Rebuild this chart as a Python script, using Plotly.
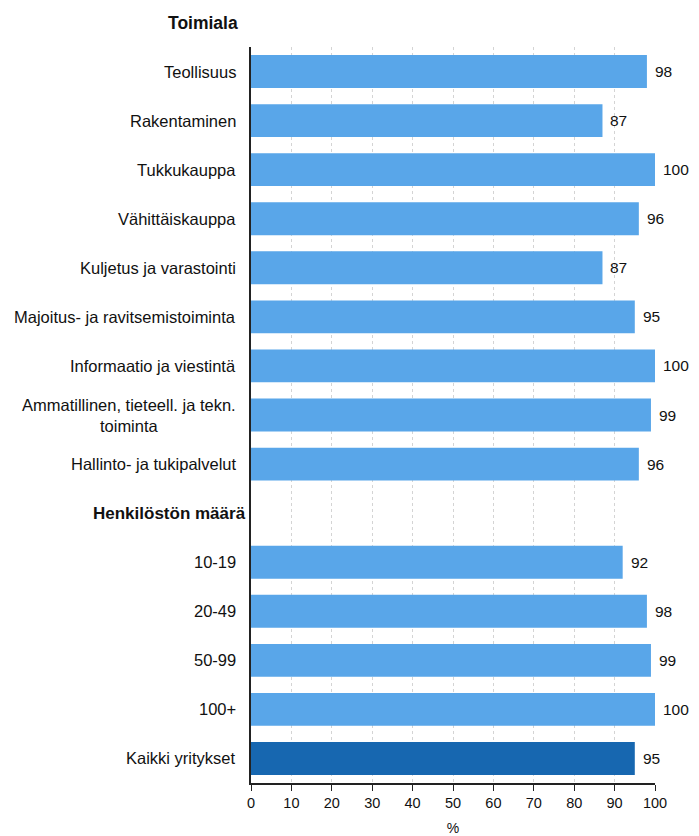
import plotly.graph_objects as go

categories = [
    "Teollisuus",
    "Rakentaminen",
    "Tukkukauppa",
    "Vähittäiskauppa",
    "Kuljetus ja varastointi",
    "Majoitus- ja ravitsemistoiminta",
    "Informaatio ja viestintä",
    "Ammatillinen, tieteell. ja tekn.<br>toiminta",
    "Hallinto- ja tukipalvelut",
    "Henkilöstön määrä",
    "10-19",
    "20-49",
    "50-99",
    "100+",
    "Kaikki yritykset",
]
values = [98, 87, 100, 96, 87, 95, 100, 99, 96, None, 92, 98, 99, 100, 95]
headers = ["Henkilöstön määrä"]
top_header = "Toimiala"
x_ticks = [0, 10, 20, 30, 40, 50, 60, 70, 80, 90, 100]
x_title = "%"

LIGHT = "#59a6e9"
DARK = "#1767b0"
FONT = "Liberation Sans, Arial, sans-serif"

cat_ids = [f"c{i}" for i in range(len(categories))]
colors = [DARK if c == "Kaikki yritykset" else LIGHT for c in categories]

fig = go.Figure()
fig.add_trace(go.Bar(
    x=[v if v is not None else 0 for v in values],
    y=cat_ids,
    orientation="h",
    marker=dict(color=colors, line=dict(width=0)),
    hoverinfo="skip",
))

annotations = []
for cid, cat, v in zip(cat_ids, categories, values):
    is_header = cat in headers
    annotations.append(dict(
        x=0, xref="paper", y=cid, yref="y",
        text=f"<b>{cat}</b>" if is_header else cat,
        showarrow=False, xanchor="right", yanchor="middle", align="center",
        xshift=-3 if is_header else -13,
        font=dict(family=FONT, size=17 if is_header else 16.5, color="#111"),
    ))
    if v is not None:
        annotations.append(dict(
            x=v, xref="x", y=cid, yref="y", text=str(v),
            showarrow=False, xanchor="left", yanchor="middle", xshift=6,
            font=dict(family=FONT, size=15.5, color="#111"),
        ))

annotations.append(dict(
    x=0, xref="paper", y=1, yref="paper", yanchor="bottom", yshift=12,
    text=f"<b>{top_header}</b>", showarrow=False, xanchor="right", xshift=-11,
    font=dict(family=FONT, size=17.5, color="#111"),
))

fig.update_layout(
    width=691, height=828,
    margin=dict(l=243, r=44, t=39, b=53, autoexpand=False),
    paper_bgcolor="white", plot_bgcolor="white",
    bargap=0.33,
    showlegend=False,
    annotations=annotations,
    font=dict(family=FONT, size=14, color="#111"),
    xaxis=dict(
        range=[0, 100], tickvals=x_ticks, ticktext=[str(t) for t in x_ticks],
        showgrid=True, gridcolor="#d4d4d4", griddash="dot", gridwidth=1,
        showline=True, linecolor="#222", linewidth=1.5,
        ticks="outside", ticklen=6, tickcolor="#222",
        zeroline=False,
        title=dict(text=x_title, standoff=13, font=dict(size=14)),
        tickfont=dict(size=14.5),
    ),
    yaxis=dict(
        type="category", categoryorder="array", categoryarray=cat_ids,
        autorange="reversed", showticklabels=False, showgrid=False,
        showline=True, linecolor="#222", linewidth=1.5, zeroline=False,
    ),
)

fig.write_html("out.html")
